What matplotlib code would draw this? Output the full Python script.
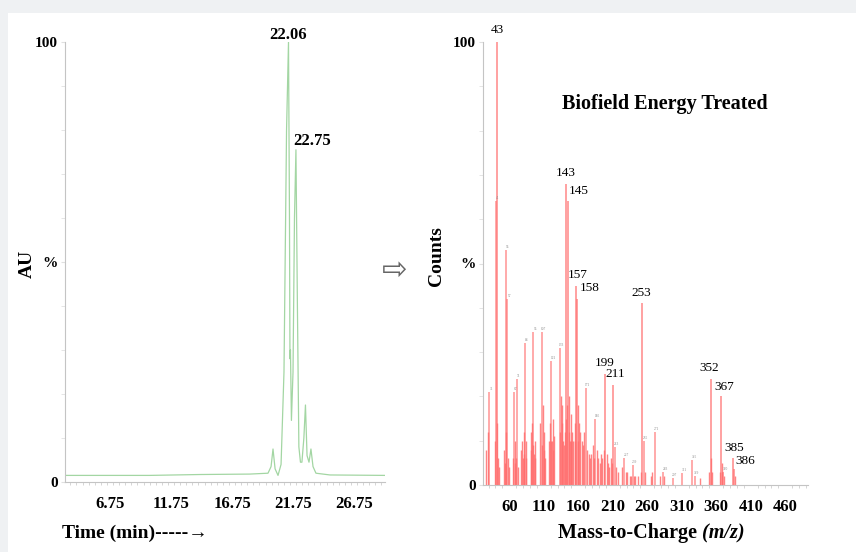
import matplotlib.pyplot as plt
from matplotlib.patches import Rectangle
from matplotlib.ticker import MultipleLocator

plt.rcParams['font.family'] = ['Liberation Serif', 'DejaVu Serif']

# --- LC chromatogram (time in min, relative abundance %) ---
lc_time = [3.06, 10.0, 14.1, 18.2, 19.7, 19.95, 20.11, 20.28, 20.52, 20.77,
           21.01, 21.22, 21.38, 21.46, 21.50, 21.54, 21.62, 21.75, 21.87, 21.99,
           22.11, 22.23, 22.36, 22.48, 22.64, 22.77, 22.90, 23.06, 23.22, 23.39,
           23.63, 24.78, 29.29]
lc_signal = [1.5, 1.5, 1.7, 1.8, 2.0, 3.5, 7.5, 3.0, 1.5, 4.0,
             25.0, 80.0, 100.0, 60.0, 28.0, 30.0, 14.0, 25.0, 60.0, 75.5,
             40.0, 8.0, 4.5, 4.5, 10.0, 17.5, 6.0, 4.5, 7.5, 3.5,
             2.0, 1.6, 1.5]
lc_peak_time = [21.38, 21.99]
lc_peak_height = [100.0, 75.5]
lc_peak_text = ['22.06', '22.75']
lc_ticks = [6.75, 11.75, 16.75, 21.75, 26.75]

# --- mass spectrum: labelled ions ---
ms_major_mz = [43, 143, 145, 157, 158, 253, 199, 211, 352, 367, 385, 386]
ms_major_int = [100, 68, 64, 45, 42, 41, 25, 22.5, 24, 20, 6, 3.5]

# small-labelled ions
ms_small_mz = [31, 41, 55, 57, 67, 71, 83, 95, 107, 121, 133, 171, 185,
               213, 227, 239, 255, 271, 283, 297, 311, 325, 329, 370]
ms_small_int = [21, 64, 53, 42, 21, 24, 32, 34.5, 34.5, 28, 31, 22, 15,
                8.5, 6, 4.5, 10, 12, 3, 1.5, 2.7, 5.6, 2, 3]

# unlabelled background ions
ms_minor_mz = [27, 29, 39, 42, 44, 45, 53, 54, 56, 58, 59, 65, 68, 69, 70, 72,
               77, 79, 80, 81, 82, 84, 85, 91, 92, 93, 94, 96, 97, 98,
               105, 108, 109, 110, 111, 112, 117, 119, 120, 122, 123, 124, 125,
               134, 135, 136, 137, 138, 139, 141, 142, 144, 146, 147, 148,
               149, 150, 151, 153, 155, 156, 159, 160, 161, 163, 165, 167, 169,
               173, 175, 177, 179, 181, 183, 187, 189, 191, 193, 195, 197,
               201, 203, 205, 207, 209, 215, 217, 223, 229, 231, 235, 237,
               241, 243, 247, 251, 257, 265, 267, 279, 285, 337, 350, 353,
               354, 365, 368, 369, 371, 387]
ms_minor_int = [8, 12, 10, 14, 6, 4, 8, 5, 12, 6, 4, 6, 5, 10, 6, 4,
                8, 10, 6, 12, 7, 6, 10, 12, 8, 14, 9, 7, 10, 6,
                14, 9, 18, 8, 12, 6, 10, 14, 10, 10, 15, 8, 11,
                12, 20, 14, 18, 10, 9, 12, 15, 18, 12, 20, 10,
                16, 10, 12, 10, 14, 10, 18, 10, 14, 12, 10, 9, 12,
                8, 7, 6, 7, 9, 6, 8, 6, 5, 7, 6, 8,
                7, 5, 4, 6, 5, 4, 3, 4, 3, 3, 2, 2,
                2, 2, 2, 3, 3, 2, 3, 2, 2, 1.5, 3, 6,
                3, 3, 5, 3, 2, 2]
ms_ticks = [60, 110, 160, 210, 260, 310, 360, 410, 460]

# label offsets (pixels) relative to peak tops
major_offsets = {43: (0, 6), 143: (-1, 5), 145: (11, 4), 157: (2, 5),
                 158: (13, 5), 253: (-1, 4), 199: (0, 5), 211: (2, 5),
                 352: (-2, 5), 367: (3, 3), 385: (1, 4), 386: (11, 2)}

W, H = 856, 552
fig = plt.figure(figsize=(W / 100, H / 100), dpi=100)
fig.patch.set_facecolor('#eff1f3')
fig.add_artist(Rectangle((8 / W, 0), 1, 1 - 13 / H, transform=fig.transFigure,
                         facecolor='white', edgecolor='none', zorder=0))

axis_grey = '#c4c4c4'


def style_axes(ax):
    ax.set_facecolor('none')
    for s in ['top', 'right']:
        ax.spines[s].set_visible(False)
    for s in ['left', 'bottom']:
        ax.spines[s].set_color(axis_grey)
        ax.spines[s].set_linewidth(0.8)
    ax.set_ylim(0, 100)
    ax.set_yticks([0, 50, 100])
    ax.set_yticklabels(['0', '%', '100'], fontweight='bold', fontsize=11)
    ax.yaxis.set_minor_locator(MultipleLocator(10))
    ax.tick_params(axis='y', which='both', length=3, color='#e0e0e0', pad=2)
    ax.tick_params(axis='x', which='major', length=0, pad=10, labelsize=12)
    ax.tick_params(axis='x', which='minor', length=2.5, color='#cfcfcf')
    for lbl in ax.get_xticklabels():
        lbl.set_fontweight('bold')


# ---- left: chromatogram ----
ax1 = fig.add_axes([65 / W, 1 - 482 / H, 320 / W, 440 / H])
ax1.plot(lc_time, lc_signal, color='#a3d6a3', lw=0.9)
ax1.set_xlim(3.06, 29.29)
ax1.set_xticks(lc_ticks)
ax1.set_xticklabels([f'{t:.2f}' for t in lc_ticks])
ax1.xaxis.set_minor_locator(MultipleLocator(0.5))
style_axes(ax1)
for t, h, txt, off in zip(lc_peak_time, lc_peak_height, lc_peak_text,
                          [(0, -1), (16, 1)]):
    ax1.annotate(txt, (t, h), xytext=off, textcoords='offset pixels',
                 ha='center', va='bottom', fontsize=12, fontweight='bold',
                 annotation_clip=False)

fig.text(27 / W, 1 - 264 / H, 'AU', rotation=90, ha='center', va='center',
         fontsize=14, fontweight='bold')
fig.text(62 / W, 1 - 533 / H, 'Time (min)-----\u2192', ha='left', va='center',
         fontsize=14, fontweight='bold')

# arrow between panels
fig.text(395 / W, 1 - 270 / H, '\u21e8', ha='center', va='center',
         fontsize=22, color='#666666', family='DejaVu Sans')

# ---- right: mass spectrum ----
ax2 = fig.add_axes([483 / W, 1 - 485 / H, 325 / W, 443 / H])
red = '#ff6f6f'
ax2.vlines(ms_minor_mz, 0, ms_minor_int, color=red, lw=1.0, alpha=0.85)
ax2.vlines(ms_small_mz, 0, ms_small_int, color=red, lw=1.1, alpha=0.75)
ax2.vlines(ms_major_mz, 0, ms_major_int, color=red, lw=1.3, alpha=0.7)
ax2.set_xlim(22, 493)
ax2.set_xticks(ms_ticks)
ax2.xaxis.set_minor_locator(MultipleLocator(10))
style_axes(ax2)

for mz, h in zip(ms_major_mz, ms_major_int):
    ax2.annotate(str(mz), (mz, h), xytext=major_offsets[mz],
                 textcoords='offset pixels', ha='center', va='bottom',
                 fontsize=9.5, annotation_clip=False)
for mz, h in zip(ms_small_mz, ms_small_int):
    ax2.annotate(str(mz), (mz, h), xytext=(2, 1), textcoords='offset pixels',
                 ha='center', va='bottom', fontsize=2.5, color='#888888')

ax2.text(0.56, 0.86, 'Biofield Energy Treated', transform=ax2.transAxes,
         ha='center', va='center', fontsize=14.5, fontweight='bold')

fig.text(436 / W, 1 - 256 / H, 'Counts', rotation=90, ha='center',
         va='center', fontsize=14, fontweight='bold')

# x label with italic m/z placed right after the upright part
renderer = fig.canvas.get_renderer()
part1 = fig.text(558 / W, 1 - 533 / H, 'Mass-to-Charge ', ha='left',
                 va='center', fontsize=14.5, fontweight='bold')
bb = part1.get_window_extent(renderer=renderer)
fig.text(bb.x1 / W, 1 - 533 / H, '(m/z)', ha='left', va='center',
         fontsize=14.5, fontweight='bold', style='italic')

fig.savefig('out.png', dpi=100, facecolor=fig.get_facecolor())
